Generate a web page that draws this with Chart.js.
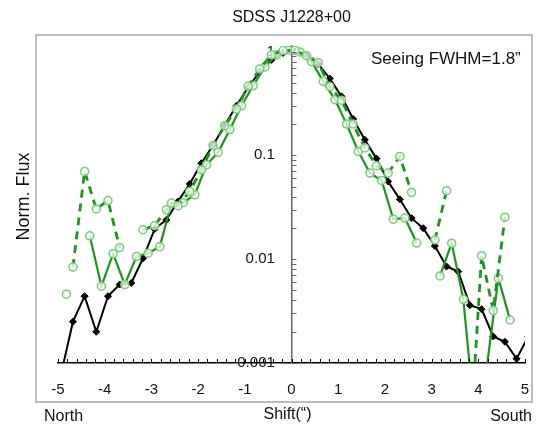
<!DOCTYPE html>
<html>
<head>
<meta charset="utf-8">
<title>SDSS J1228+00</title>
<script src="https://cdn.jsdelivr.net/npm/chart.js@4/dist/chart.umd.min.js"></script>
<style>
  html, body { margin: 0; padding: 0; background: #fff; }
  #c { display: block; }
</style>
</head>
<body>
<canvas id="c" width="539" height="425"></canvas>
<script>
// slit profile, model PSF (black) vs. two green cuts; shift in arcsec, flux normalised to peak
var FONT = "'Liberation Sans', Arial, Helvetica, sans-serif";

var blackX = [-4.93,-4.68,-4.43,-4.18,-3.93,-3.68,-3.43,-3.18,-2.93,-2.68,-2.43,-2.18,-1.93,-1.68,-1.43,-1.18,-0.93,-0.68,-0.43,-0.18,
  0.07,0.32,0.57,0.82,1.07,1.32,1.57,1.82,2.07,2.32,2.57,2.82,3.07,3.32,3.57,3.82,4.07,4.32,4.57,4.82,5.07];
var blackFlux = [0.0008,0.0025,0.0044,0.0020,0.0044,0.0057,0.0059,0.0102,0.0195,0.0239,0.036,0.053,0.084,0.125,0.195,0.30,0.45,0.64,0.83,0.97,
  1.0,0.92,0.76,0.55,0.37,0.224,0.141,0.093,0.056,0.0377,0.0248,0.0199,0.0134,0.0085,0.0076,0.0036,0.0033,0.0018,0.0016,0.0011,0.0018];

var solidX = [-4.82,-4.57,-4.32,-4.07,-3.82,-3.57,-3.32,-3.07,-2.82,-2.57,-2.32,-2.07,-1.82,-1.57,-1.32,-1.07,-0.82,-0.57,-0.32,-0.07,
  0.18,0.43,0.68,0.93,1.18,1.43,1.68,1.93,2.18,2.43,2.68,2.93,3.18,3.43,3.68,3.93,4.18,4.43,4.68];
var solidFlux = [0.0046,null,0.0168,0.0055,0.0113,0.0057,0.0106,0.0114,0.0132,0.0347,0.035,0.0417,0.081,0.107,0.177,0.30,0.47,0.71,0.93,1.03,
  0.99,0.80,0.516,0.344,0.20,0.109,0.0675,0.0573,0.0243,0.0249,0.0143,null,0.0069,0.01426,0.0041,0.00027,0.0009,0.00656,0.0026];

var dashX = [-4.68,-4.43,-4.18,-3.93,-3.68,-3.43,-3.18,-2.93,-2.68,-2.43,-2.18,-1.93,-1.68,-1.43,-1.18,-0.93,-0.68,-0.43,-0.18,
  0.07,0.32,0.57,0.82,1.07,1.32,1.57,1.82,2.07,2.32,2.57,2.82,3.07,3.32,3.57,3.82,4.07,4.32,4.57,4.82];
var dashFlux = [0.0084,0.070,0.0305,0.0367,0.0129,null,0.0192,0.021,0.030,0.0327,0.0449,0.0727,0.124,0.193,0.279,0.462,0.68,0.93,1.02,
  1.03,0.91,0.78,0.46,0.34,0.20,0.118,0.0794,0.0675,0.0975,0.0439,null,0.0153,0.0456,null,0.00016,0.0108,0.0032,0.0254,null];

var yTicks = [0.001, 0.01, 0.1, 1];
var xMin = -5, xMax = 5, yMin = 0.001, yMax = 1.13;

function pts(xs, ys) { return xs.map(function (x, i) { return { x: x, y: ys[i] }; }); }

var GREEN = '#1c951c', RING = '#74cf74';

// frame, inward minor ticks and the loose labels round the plot
var decor = {
  id: 'decor',
  beforeDraw: function (c) {
    var a = c.chartArea, ctx = c.ctx;
    ctx.save();
    ctx.strokeStyle = '#a6a6a6'; ctx.lineWidth = 1.5;
    ctx.strokeRect(a.left - 22, a.top - 11, (a.right + 7) - (a.left - 22), (a.bottom + 39) - (a.top - 11));
    ctx.restore();
  },
  afterDraw: function (c) {
    var a = c.chartArea, ctx = c.ctx, sx = c.scales.x, sy = c.scales.y;
    ctx.save();
    // x minor ticks every 0.2
    ctx.strokeStyle = '#000'; ctx.lineWidth = 1;
    for (var i = -25; i <= 25; i++) {
      var px = Math.round(sx.getPixelForValue(i / 5)) + 0.5;
      ctx.beginPath(); ctx.moveTo(px, a.bottom); ctx.lineTo(px, a.bottom - 4); ctx.stroke();
    }
    // y log ticks, to the right of the centre axis
    var x0 = sx.getPixelForValue(0);
    ctx.strokeStyle = '#666';
    [0.001, 0.01, 0.1, 1].forEach(function (d) {
      for (var m = 1; m <= 9; m++) {
        var v = m * d; if (v > yMax) break;
        var py = Math.round(sy.getPixelForValue(v)) + 0.5;
        ctx.beginPath(); ctx.moveTo(x0, py); ctx.lineTo(x0 + 5, py); ctx.stroke();
      }
    });
    ctx.fillStyle = '#111';
    ctx.textBaseline = 'middle';
    ctx.font = '17px ' + FONT; ctx.textAlign = 'left';
    ctx.fillText('Seeing FWHM=1.8\u201d', a.right - 154, a.top + 13);
    ctx.font = '16px ' + FONT;
    ctx.fillText('North', a.left - 14, a.bottom + 54);
    ctx.textAlign = 'right';
    ctx.fillText('South', a.right + 7, a.bottom + 54);
    ctx.textAlign = 'center';
    ctx.fillText('Shift(\u201c)', x0 - 4, a.bottom + 52);
    ctx.translate(a.left - 34, (a.top + a.bottom) / 2 - 8);
    ctx.rotate(-Math.PI / 2);
    ctx.font = '18px ' + FONT;
    ctx.fillText('Norm. Flux', 0, 0);
    ctx.restore();
  }
};

new Chart(document.getElementById('c'), {
  type: 'line',
  data: {
    datasets: [
      { label: 'dashed', data: pts(dashX, dashFlux), borderColor: GREEN, borderWidth: 2.8, borderDash: [8, 6],
        pointStyle: 'circle', pointRadius: 4, pointBorderColor: RING, pointBorderWidth: 1.5, pointBackgroundColor: 'rgba(255,255,255,0.75)' },
      { label: 'solid', data: pts(solidX, solidFlux), borderColor: GREEN, borderWidth: 2.2,
        pointStyle: 'circle', pointRadius: 4, pointBorderColor: RING, pointBorderWidth: 1.5, pointBackgroundColor: 'rgba(255,255,255,0.75)' },
      { label: 'psf', data: pts(blackX, blackFlux), borderColor: '#000', borderWidth: 2,
        pointStyle: 'rectRot', pointRadius: 3.5, pointBorderColor: '#000', pointBackgroundColor: '#000', pointBorderWidth: 1 }
    ]
  },
  options: {
    responsive: false, animation: false, devicePixelRatio: 1,
    spanGaps: false,
    elements: { line: { tension: 0 } },
    layout: { padding: { left: 58, right: 14, top: 0, bottom: 26 } },
    plugins: {
      legend: { display: false }, tooltip: { enabled: false },
      title: { display: true, text: 'SDSS J1228+00', color: '#111', font: { family: FONT, size: 16, weight: 'normal' }, padding: { top: 8, bottom: 18.8 } }
    },
    scales: {
      // tick marks themselves are hidden; tickLength only sets the label gap
      x: { type: 'linear', min: xMin, max: xMax,
        grid: { display: false, drawTicks: true, tickLength: 18 }, border: { display: true, color: '#000', width: 1.5 },
        ticks: { stepSize: 1, padding: 0, color: '#111', font: { family: FONT, size: 15 }, callback: function (v) { return String(v); } } },
      // centred axis ignores padding, so two figure spaces keep the labels off the line
      y: { type: 'logarithmic', min: yMin, max: yMax, position: { x: 0 },
        grid: { display: false, drawTicks: false }, border: { display: true, color: '#666', width: 1.5 },
        afterBuildTicks: function (s) { s.ticks = yTicks.map(function (v) { return { value: v }; }); },
        ticks: { padding: 0, color: '#111', font: { family: FONT, size: 15 }, callback: function (v) { return String(v) + '\u2007\u2007'; } } }
    }
  },
  plugins: [decor]
});
</script>
</body>
</html>
